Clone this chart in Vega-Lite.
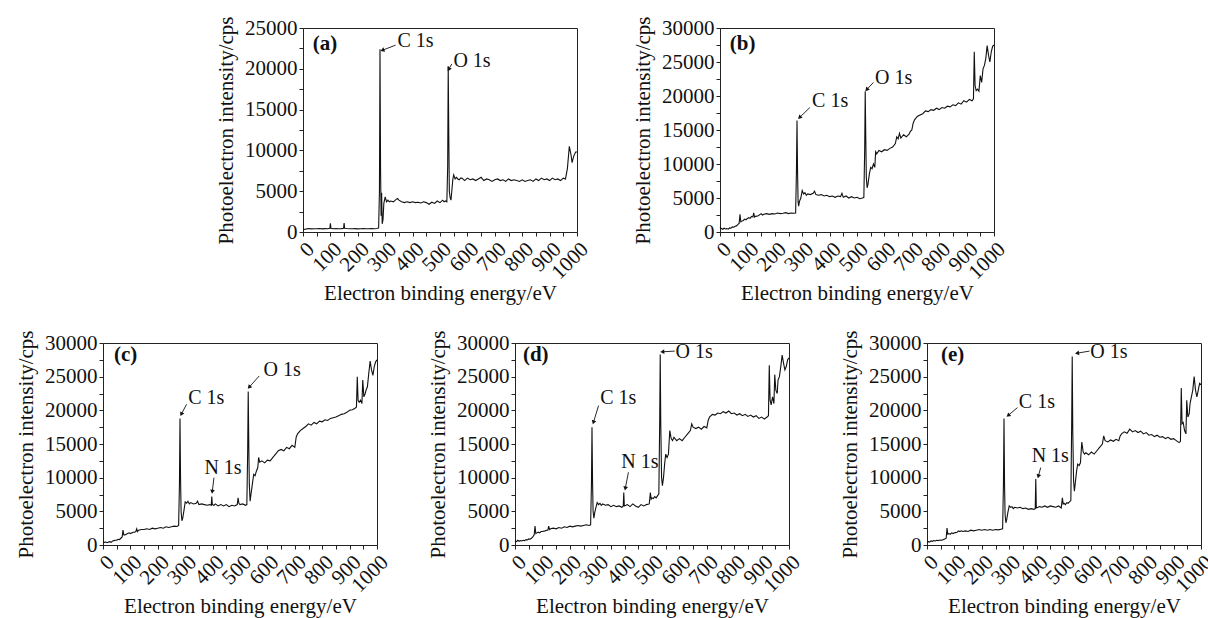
{
"$schema": "https://vega.github.io/schema/vega-lite/v6.json",
"background": "white",
"padding": {"left": 15, "top": 15, "right": 0, "bottom": 0},
"datasets": {
"a": [{"x":0,"y":300},{"x":10,"y":350},{"x":20,"y":420},{"x":30,"y":380},{"x":40,"y":400},{"x":50,"y":390},{"x":60,"y":420},{"x":70,"y":380},{"x":80,"y":410},{"x":90,"y":400},{"x":98,"y":450},{"x":100,"y":1050},{"x":102,"y":450},{"x":110,"y":400},{"x":120,"y":420},{"x":130,"y":390},{"x":140,"y":410},{"x":148,"y":450},{"x":150,"y":1100},{"x":152,"y":450},{"x":160,"y":420},{"x":170,"y":400},{"x":180,"y":390},{"x":190,"y":410},{"x":200,"y":380},{"x":210,"y":400},{"x":220,"y":420},{"x":230,"y":390},{"x":240,"y":400},{"x":250,"y":410},{"x":260,"y":390},{"x":270,"y":420},{"x":276,"y":500},{"x":279,"y":5000},{"x":281,"y":22400},{"x":283,"y":8000},{"x":285,"y":2000},{"x":287,"y":4800},{"x":289,"y":1000},{"x":292,"y":1500},{"x":295,"y":3500},{"x":300,"y":4300},{"x":305,"y":3700},{"x":310,"y":3900},{"x":315,"y":3700},{"x":320,"y":3800},{"x":330,"y":3700},{"x":340,"y":4000},{"x":345,"y":4100},{"x":350,"y":3900},{"x":360,"y":3700},{"x":370,"y":3600},{"x":380,"y":3700},{"x":390,"y":3600},{"x":400,"y":3700},{"x":410,"y":3600},{"x":420,"y":3650},{"x":430,"y":3550},{"x":440,"y":3700},{"x":450,"y":3600},{"x":460,"y":3400},{"x":470,"y":3650},{"x":480,"y":3500},{"x":490,"y":3800},{"x":500,"y":3600},{"x":510,"y":3900},{"x":515,"y":3700},{"x":520,"y":3800},{"x":525,"y":3700},{"x":528,"y":8000},{"x":530,"y":20300},{"x":532,"y":12000},{"x":534,"y":5000},{"x":537,"y":4200},{"x":540,"y":3900},{"x":543,"y":5000},{"x":547,"y":6500},{"x":550,"y":7000},{"x":555,"y":6500},{"x":560,"y":6700},{"x":565,"y":6500},{"x":570,"y":6400},{"x":575,"y":6600},{"x":580,"y":6600},{"x":590,"y":6300},{"x":600,"y":6600},{"x":610,"y":6400},{"x":620,"y":6500},{"x":630,"y":6300},{"x":640,"y":6500},{"x":650,"y":6700},{"x":660,"y":6300},{"x":670,"y":6500},{"x":680,"y":6400},{"x":690,"y":6200},{"x":700,"y":6400},{"x":710,"y":6500},{"x":720,"y":6300},{"x":730,"y":6400},{"x":740,"y":6200},{"x":750,"y":6500},{"x":760,"y":6300},{"x":770,"y":6400},{"x":780,"y":6300},{"x":790,"y":6200},{"x":800,"y":6400},{"x":810,"y":6200},{"x":820,"y":6300},{"x":830,"y":6400},{"x":840,"y":6200},{"x":850,"y":6500},{"x":860,"y":6300},{"x":870,"y":6600},{"x":880,"y":6400},{"x":890,"y":6500},{"x":900,"y":6300},{"x":910,"y":6600},{"x":920,"y":6400},{"x":930,"y":6500},{"x":940,"y":6300},{"x":950,"y":6600},{"x":958,"y":6500},{"x":965,"y":7800},{"x":972,"y":10500},{"x":978,"y":9500},{"x":982,"y":8500},{"x":988,"y":9300},{"x":995,"y":9800},{"x":1000,"y":9800}],
"b": [{"x":0,"y":700},{"x":5,"y":500},{"x":10,"y":400},{"x":15,"y":550},{"x":20,"y":450},{"x":25,"y":500},{"x":30,"y":420},{"x":35,"y":600},{"x":40,"y":550},{"x":45,"y":750},{"x":50,"y":700},{"x":55,"y":850},{"x":60,"y":900},{"x":65,"y":1100},{"x":70,"y":1300},{"x":73,"y":2600},{"x":76,"y":1500},{"x":80,"y":1600},{"x":85,"y":1700},{"x":90,"y":1900},{"x":95,"y":1800},{"x":100,"y":2000},{"x":105,"y":2100},{"x":110,"y":2000},{"x":115,"y":2300},{"x":120,"y":2200},{"x":123,"y":2800},{"x":126,"y":2200},{"x":130,"y":2300},{"x":140,"y":2400},{"x":150,"y":2700},{"x":155,"y":2500},{"x":160,"y":2600},{"x":170,"y":2700},{"x":180,"y":2600},{"x":190,"y":2700},{"x":200,"y":2650},{"x":210,"y":2800},{"x":220,"y":2700},{"x":230,"y":2750},{"x":240,"y":2850},{"x":250,"y":2700},{"x":260,"y":2800},{"x":270,"y":2750},{"x":276,"y":2800},{"x":279,"y":9000},{"x":281,"y":16400},{"x":283,"y":9000},{"x":285,"y":4500},{"x":287,"y":3800},{"x":290,"y":4500},{"x":295,"y":5000},{"x":300,"y":6100},{"x":305,"y":5600},{"x":310,"y":5800},{"x":315,"y":5400},{"x":320,"y":5600},{"x":330,"y":5500},{"x":340,"y":5700},{"x":345,"y":6000},{"x":350,"y":5500},{"x":360,"y":5400},{"x":370,"y":5500},{"x":380,"y":5300},{"x":390,"y":5400},{"x":400,"y":5200},{"x":410,"y":5300},{"x":420,"y":5100},{"x":430,"y":5300},{"x":440,"y":5200},{"x":445,"y":5700},{"x":450,"y":5100},{"x":460,"y":5300},{"x":470,"y":5000},{"x":480,"y":5200},{"x":490,"y":5000},{"x":500,"y":5100},{"x":510,"y":4900},{"x":520,"y":5000},{"x":525,"y":5100},{"x":528,"y":12000},{"x":530,"y":20700},{"x":532,"y":14000},{"x":534,"y":8000},{"x":537,"y":6500},{"x":540,"y":7000},{"x":545,"y":8500},{"x":550,"y":9500},{"x":555,"y":9300},{"x":560,"y":10000},{"x":565,"y":9500},{"x":568,"y":11800},{"x":572,"y":11500},{"x":580,"y":12000},{"x":590,"y":11800},{"x":600,"y":12100},{"x":610,"y":12000},{"x":620,"y":12300},{"x":630,"y":12500},{"x":640,"y":13000},{"x":645,"y":14000},{"x":650,"y":13700},{"x":655,"y":14500},{"x":660,"y":13800},{"x":670,"y":14300},{"x":680,"y":14000},{"x":690,"y":14400},{"x":695,"y":14800},{"x":700,"y":15000},{"x":705,"y":16000},{"x":710,"y":16500},{"x":720,"y":17000},{"x":730,"y":17200},{"x":740,"y":17400},{"x":750,"y":17800},{"x":760,"y":17700},{"x":770,"y":18000},{"x":780,"y":17900},{"x":790,"y":18200},{"x":800,"y":18000},{"x":810,"y":18300},{"x":820,"y":18200},{"x":830,"y":18500},{"x":840,"y":18400},{"x":850,"y":18700},{"x":860,"y":18600},{"x":870,"y":19000},{"x":880,"y":18800},{"x":890,"y":19300},{"x":900,"y":19100},{"x":910,"y":19500},{"x":920,"y":19300},{"x":925,"y":19600},{"x":928,"y":26500},{"x":931,"y":21500},{"x":935,"y":20800},{"x":940,"y":21000},{"x":945,"y":20700},{"x":950,"y":23000},{"x":955,"y":22000},{"x":960,"y":24000},{"x":965,"y":24500},{"x":970,"y":25500},{"x":975,"y":27400},{"x":980,"y":26000},{"x":985,"y":25000},{"x":990,"y":26500},{"x":995,"y":27300},{"x":1000,"y":27500}],
"c": [{"x":0,"y":500},{"x":5,"y":400},{"x":10,"y":450},{"x":15,"y":350},{"x":20,"y":450},{"x":25,"y":500},{"x":30,"y":400},{"x":35,"y":600},{"x":40,"y":650},{"x":45,"y":700},{"x":50,"y":700},{"x":55,"y":850},{"x":60,"y":800},{"x":65,"y":1000},{"x":70,"y":1200},{"x":73,"y":2200},{"x":76,"y":1500},{"x":80,"y":1500},{"x":85,"y":1600},{"x":90,"y":1700},{"x":95,"y":1800},{"x":100,"y":1700},{"x":110,"y":1900},{"x":115,"y":1900},{"x":120,"y":2000},{"x":123,"y":2400},{"x":126,"y":2000},{"x":130,"y":2200},{"x":140,"y":2300},{"x":150,"y":2300},{"x":160,"y":2400},{"x":170,"y":2300},{"x":180,"y":2500},{"x":190,"y":2400},{"x":200,"y":2500},{"x":210,"y":2600},{"x":220,"y":2500},{"x":230,"y":2700},{"x":240,"y":2600},{"x":250,"y":2700},{"x":260,"y":2800},{"x":270,"y":2750},{"x":276,"y":2900},{"x":279,"y":9000},{"x":281,"y":18800},{"x":283,"y":10000},{"x":285,"y":5000},{"x":288,"y":3600},{"x":291,"y":4000},{"x":295,"y":5000},{"x":300,"y":6400},{"x":305,"y":6200},{"x":310,"y":6500},{"x":315,"y":6100},{"x":320,"y":6300},{"x":330,"y":6100},{"x":340,"y":6200},{"x":345,"y":6500},{"x":350,"y":6000},{"x":360,"y":6100},{"x":370,"y":6000},{"x":380,"y":5900},{"x":390,"y":6000},{"x":395,"y":5900},{"x":397,"y":7200},{"x":399,"y":6000},{"x":405,"y":5900},{"x":410,"y":6100},{"x":420,"y":5800},{"x":430,"y":6000},{"x":440,"y":5800},{"x":450,"y":6000},{"x":460,"y":5700},{"x":470,"y":5900},{"x":480,"y":5800},{"x":490,"y":6000},{"x":493,"y":7000},{"x":496,"y":6200},{"x":500,"y":6000},{"x":510,"y":6100},{"x":520,"y":5900},{"x":525,"y":6000},{"x":528,"y":14000},{"x":530,"y":22800},{"x":532,"y":15000},{"x":534,"y":9000},{"x":537,"y":6500},{"x":540,"y":7500},{"x":545,"y":9000},{"x":550,"y":10500},{"x":555,"y":10300},{"x":560,"y":11000},{"x":565,"y":11500},{"x":568,"y":13000},{"x":572,"y":12300},{"x":580,"y":12500},{"x":590,"y":12200},{"x":600,"y":12600},{"x":610,"y":12500},{"x":620,"y":13000},{"x":630,"y":13500},{"x":640,"y":14000},{"x":650,"y":14200},{"x":660,"y":14000},{"x":670,"y":14500},{"x":680,"y":14300},{"x":690,"y":14800},{"x":700,"y":14500},{"x":705,"y":16000},{"x":710,"y":16500},{"x":720,"y":17000},{"x":730,"y":17300},{"x":740,"y":17600},{"x":750,"y":18000},{"x":760,"y":17800},{"x":770,"y":18200},{"x":780,"y":18000},{"x":790,"y":18400},{"x":800,"y":18300},{"x":810,"y":18600},{"x":820,"y":18500},{"x":830,"y":18800},{"x":840,"y":18900},{"x":850,"y":19000},{"x":860,"y":19200},{"x":870,"y":19400},{"x":880,"y":19500},{"x":890,"y":19700},{"x":900,"y":20000},{"x":910,"y":20100},{"x":920,"y":20300},{"x":925,"y":20500},{"x":928,"y":25000},{"x":931,"y":21500},{"x":935,"y":21200},{"x":940,"y":21500},{"x":945,"y":21000},{"x":948,"y":24500},{"x":952,"y":22000},{"x":957,"y":22500},{"x":960,"y":23000},{"x":965,"y":23500},{"x":970,"y":25500},{"x":975,"y":27300},{"x":980,"y":26000},{"x":985,"y":25200},{"x":990,"y":26500},{"x":995,"y":27200},{"x":1000,"y":27500}],
"d": [{"x":0,"y":600},{"x":5,"y":500},{"x":10,"y":700},{"x":15,"y":550},{"x":20,"y":650},{"x":25,"y":600},{"x":30,"y":700},{"x":35,"y":650},{"x":40,"y":800},{"x":45,"y":750},{"x":50,"y":900},{"x":55,"y":850},{"x":60,"y":1000},{"x":65,"y":1200},{"x":70,"y":1500},{"x":73,"y":2800},{"x":76,"y":1700},{"x":80,"y":1800},{"x":85,"y":1900},{"x":90,"y":1800},{"x":95,"y":2000},{"x":100,"y":2000},{"x":110,"y":2100},{"x":115,"y":2200},{"x":120,"y":2200},{"x":123,"y":2800},{"x":126,"y":2300},{"x":130,"y":2400},{"x":140,"y":2500},{"x":150,"y":2400},{"x":160,"y":2600},{"x":170,"y":2500},{"x":180,"y":2700},{"x":190,"y":2600},{"x":200,"y":2800},{"x":210,"y":2700},{"x":220,"y":2800},{"x":230,"y":2900},{"x":240,"y":2800},{"x":250,"y":2900},{"x":260,"y":3000},{"x":270,"y":2900},{"x":276,"y":3000},{"x":279,"y":9000},{"x":281,"y":17500},{"x":283,"y":9500},{"x":285,"y":5000},{"x":288,"y":4000},{"x":291,"y":4800},{"x":295,"y":5500},{"x":300,"y":6300},{"x":305,"y":6000},{"x":310,"y":6200},{"x":315,"y":5900},{"x":320,"y":6100},{"x":330,"y":5900},{"x":340,"y":6000},{"x":350,"y":5700},{"x":360,"y":5900},{"x":370,"y":5700},{"x":380,"y":5800},{"x":390,"y":5600},{"x":395,"y":5800},{"x":397,"y":7800},{"x":399,"y":5800},{"x":405,"y":5900},{"x":410,"y":6000},{"x":420,"y":5700},{"x":430,"y":6100},{"x":440,"y":5800},{"x":450,"y":5600},{"x":460,"y":6000},{"x":470,"y":5800},{"x":480,"y":6000},{"x":490,"y":6100},{"x":494,"y":7800},{"x":497,"y":6800},{"x":500,"y":7000},{"x":505,"y":6900},{"x":510,"y":7200},{"x":515,"y":7000},{"x":520,"y":7300},{"x":525,"y":7600},{"x":528,"y":18000},{"x":530,"y":28300},{"x":532,"y":18000},{"x":535,"y":10000},{"x":538,"y":8800},{"x":542,"y":10000},{"x":546,"y":12000},{"x":550,"y":13500},{"x":555,"y":13000},{"x":560,"y":13500},{"x":565,"y":17000},{"x":570,"y":15800},{"x":575,"y":15500},{"x":580,"y":16000},{"x":590,"y":15500},{"x":600,"y":15800},{"x":610,"y":15500},{"x":620,"y":16000},{"x":630,"y":16500},{"x":640,"y":17000},{"x":645,"y":18000},{"x":650,"y":17500},{"x":660,"y":17300},{"x":670,"y":17500},{"x":680,"y":17200},{"x":690,"y":17600},{"x":700,"y":17400},{"x":705,"y":18500},{"x":710,"y":19000},{"x":720,"y":19400},{"x":730,"y":19300},{"x":740,"y":19600},{"x":750,"y":19500},{"x":760,"y":19800},{"x":770,"y":19600},{"x":780,"y":19900},{"x":790,"y":19500},{"x":800,"y":19600},{"x":810,"y":19300},{"x":820,"y":19500},{"x":830,"y":19200},{"x":840,"y":19400},{"x":850,"y":19100},{"x":860,"y":19300},{"x":870,"y":19000},{"x":880,"y":19200},{"x":890,"y":18800},{"x":900,"y":19000},{"x":910,"y":18700},{"x":920,"y":19000},{"x":925,"y":19200},{"x":928,"y":26700},{"x":931,"y":21500},{"x":935,"y":20800},{"x":940,"y":22000},{"x":945,"y":21000},{"x":948,"y":25300},{"x":952,"y":23000},{"x":957,"y":22500},{"x":960,"y":24500},{"x":965,"y":25000},{"x":970,"y":26500},{"x":975,"y":28200},{"x":980,"y":27000},{"x":985,"y":26000},{"x":990,"y":26500},{"x":995,"y":27500},{"x":1000,"y":27800}],
"e": [{"x":0,"y":400},{"x":5,"y":500},{"x":10,"y":450},{"x":15,"y":600},{"x":20,"y":550},{"x":25,"y":650},{"x":30,"y":600},{"x":35,"y":700},{"x":40,"y":650},{"x":45,"y":700},{"x":50,"y":750},{"x":55,"y":700},{"x":60,"y":800},{"x":65,"y":900},{"x":70,"y":1000},{"x":73,"y":2500},{"x":76,"y":1600},{"x":80,"y":1700},{"x":85,"y":1600},{"x":90,"y":1800},{"x":95,"y":1700},{"x":100,"y":1800},{"x":110,"y":1900},{"x":115,"y":2100},{"x":120,"y":2000},{"x":125,"y":2100},{"x":130,"y":2000},{"x":140,"y":2100},{"x":150,"y":2000},{"x":160,"y":2200},{"x":170,"y":2100},{"x":180,"y":2200},{"x":190,"y":2300},{"x":200,"y":2200},{"x":210,"y":2300},{"x":220,"y":2200},{"x":230,"y":2300},{"x":240,"y":2200},{"x":250,"y":2300},{"x":260,"y":2250},{"x":270,"y":2350},{"x":276,"y":2400},{"x":279,"y":9000},{"x":281,"y":18800},{"x":283,"y":9000},{"x":285,"y":4500},{"x":288,"y":3300},{"x":291,"y":3800},{"x":295,"y":4800},{"x":300,"y":5800},{"x":305,"y":5600},{"x":310,"y":5700},{"x":315,"y":5400},{"x":320,"y":5600},{"x":330,"y":5500},{"x":340,"y":5600},{"x":350,"y":5400},{"x":360,"y":5500},{"x":370,"y":5300},{"x":380,"y":5400},{"x":390,"y":5300},{"x":395,"y":5400},{"x":397,"y":9800},{"x":399,"y":5500},{"x":405,"y":5600},{"x":410,"y":5700},{"x":420,"y":5600},{"x":430,"y":5800},{"x":440,"y":5600},{"x":450,"y":5800},{"x":460,"y":5700},{"x":470,"y":5600},{"x":480,"y":5800},{"x":490,"y":5500},{"x":494,"y":7000},{"x":497,"y":6100},{"x":500,"y":6200},{"x":505,"y":6000},{"x":510,"y":6300},{"x":515,"y":6200},{"x":520,"y":6400},{"x":525,"y":6600},{"x":528,"y":18000},{"x":530,"y":28000},{"x":532,"y":17000},{"x":535,"y":9500},{"x":538,"y":8000},{"x":542,"y":9500},{"x":546,"y":11000},{"x":550,"y":12000},{"x":555,"y":11800},{"x":560,"y":12200},{"x":565,"y":15300},{"x":570,"y":13800},{"x":575,"y":13500},{"x":580,"y":13700},{"x":590,"y":13400},{"x":600,"y":13800},{"x":610,"y":13500},{"x":620,"y":14000},{"x":630,"y":14500},{"x":640,"y":15000},{"x":645,"y":16200},{"x":650,"y":15500},{"x":660,"y":15300},{"x":670,"y":15600},{"x":680,"y":15400},{"x":690,"y":15700},{"x":700,"y":15500},{"x":705,"y":16200},{"x":710,"y":16500},{"x":720,"y":16800},{"x":730,"y":16600},{"x":740,"y":17200},{"x":750,"y":16800},{"x":760,"y":17000},{"x":770,"y":16700},{"x":780,"y":16900},{"x":790,"y":16500},{"x":800,"y":16700},{"x":810,"y":16300},{"x":820,"y":16400},{"x":830,"y":16100},{"x":840,"y":16300},{"x":850,"y":16000},{"x":860,"y":16100},{"x":870,"y":15800},{"x":880,"y":16000},{"x":890,"y":15700},{"x":900,"y":15800},{"x":910,"y":15500},{"x":920,"y":15200},{"x":925,"y":15400},{"x":928,"y":23300},{"x":931,"y":18000},{"x":935,"y":18200},{"x":940,"y":17000},{"x":945,"y":16500},{"x":948,"y":21500},{"x":952,"y":19000},{"x":957,"y":19500},{"x":960,"y":21000},{"x":965,"y":22000},{"x":970,"y":23000},{"x":975,"y":25000},{"x":980,"y":23000},{"x":985,"y":22000},{"x":990,"y":23000},{"x":995,"y":24000},{"x":1000,"y":23800}],
"arr": [{"p":"a","x":292,"y":22300,"x2":338,"y2":22900},{"p":"a","x":533,"y":20000,"x2":543,"y2":20600},{"p":"b","x":292,"y":16900,"x2":328,"y2":18300},{"p":"b","x":537,"y":21000,"x2":560,"y2":22000},{"p":"c","x":287,"y":19500,"x2":305,"y2":20900},{"p":"c","x":535,"y":23500,"x2":570,"y2":25100},{"p":"c","x":399,"y":8000,"x2":405,"y2":10000},{"p":"d","x":287,"y":18300,"x2":305,"y2":20700},{"p":"d","x":540,"y":28700,"x2":583,"y2":28800},{"p":"d","x":403,"y":8500,"x2":414,"y2":10800},{"p":"e","x":298,"y":19300,"x2":330,"y2":20400},{"p":"e","x":550,"y":28500,"x2":593,"y2":28800},{"p":"e","x":407,"y":10300,"x2":415,"y2":11500}],
"lbl": [{"p":"a","x":345,"y":23400,"t":"C 1s"},{"p":"a","x":549,"y":20950,"t":"O 1s"},{"p":"b","x":336,"y":19300,"t":"C 1s"},{"p":"b","x":566,"y":22600,"t":"O 1s"},{"p":"c","x":311,"y":21800,"t":"C 1s"},{"p":"c","x":586,"y":26000,"t":"O 1s"},{"p":"c","x":370,"y":11400,"t":"N 1s"},{"p":"d","x":311,"y":21800,"t":"C 1s"},{"p":"d","x":586,"y":28700,"t":"O 1s"},{"p":"d","x":388,"y":12300,"t":"N 1s"},{"p":"e","x":335,"y":21200,"t":"C 1s"},{"p":"e","x":596,"y":28700,"t":"O 1s"},{"p":"e","x":382,"y":13200,"t":"N 1s"}],
"tag": [{"p":"a","x":36,"y":23000,"t":"(a)"},{"p":"b","x":36,"y":27600,"t":"(b)"},{"p":"c","x":40,"y":28200,"t":"(c)"},{"p":"d","x":29,"y":28200,"t":"(d)"},{"p":"e","x":51,"y":28200,"t":"(e)"}]
},
"config": {
"view": {"stroke": "#222", "strokeWidth": 1},
"font": "Liberation Serif",
"axis": {"labelFont": "Liberation Serif", "titleFont": "Liberation Serif", "labelFontSize": 21, "titleFontSize": 21, "titleFontWeight": "normal", "labelColor": "#111", "titleColor": "#111", "domainColor": "#222", "tickColor": "#222", "grid": false, "tickSize": 4, "labelPadding": 2, "labelOverlap": false, "labelFlush": false},
"axisX": {"labelAngle": -45, "titlePadding": 0},
"axisY": {"titlePadding": 8}
},
"vconcat": [
{"hconcat": [
{"width": 73, "height": 204, "data": {"values": []}, "mark": "point", "view": {"stroke": null}},
{"width": 274, "height": 204,
"encoding": {
"x": {"field": "x", "type": "quantitative", "title": "Electron binding energy/eV", "scale": {"domain": [0, 1000], "nice": false}, "axis": {"values": [0,50,100,150,200,250,300,350,400,450,500,550,600,650,700,750,800,850,900,950,1000], "format": "d", "labelExpr": "datum.value % 100 == 0 ? datum.label : ''"}},
"y": {"field": "y", "type": "quantitative", "title": "Photoelectron intensity/cps", "scale": {"domain": [0, 25000], "nice": false}, "axis": {"values": [0,2500,5000,7500,10000,12500,15000,17500,20000,22500,25000], "format": "d", "labelExpr": "datum.value % 5000 == 0 ? datum.label : ''"}}},
"layer": [
{"data": {"name": "a"}, "mark": {"type": "line", "color": "#111", "strokeWidth": 1.1}},
{"data": {"name": "arr"}, "transform": [{"filter": "datum.p == 'a'"}], "mark": {"type": "rule", "color": "#111", "strokeWidth": 0.9}, "encoding": {"x2": {"field": "x2"}, "y2": {"field": "y2"}}},
{"data": {"name": "arr"}, "transform": [{"filter": "datum.p == 'a'"}, {"calculate": "atan2((datum.x - datum.x2) * 0.274, (datum.y - datum.y2) * 0.00816) * 180 / PI", "as": "ang"}], "mark": {"type": "point", "shape": "triangle", "filled": true, "color": "#111", "size": 22, "opacity": 1}, "encoding": {"angle": {"field": "ang", "type": "quantitative", "scale": null}}},
{"data": {"name": "lbl"}, "transform": [{"filter": "datum.p == 'a'"}], "mark": {"type": "text", "align": "left", "baseline": "middle", "font": "Liberation Serif", "fontSize": 20, "color": "#111"}, "encoding": {"text": {"field": "t"}}},
{"data": {"name": "tag"}, "transform": [{"filter": "datum.p == 'a'"}], "mark": {"type": "text", "align": "left", "baseline": "middle", "font": "Liberation Serif", "fontSize": 21, "fontWeight": "bold", "color": "#111"}, "encoding": {"text": {"field": "t"}}}
]},
{"width": 274, "height": 204,
"encoding": {
"x": {"field": "x", "type": "quantitative", "title": "Electron binding energy/eV", "scale": {"domain": [0, 1000], "nice": false}, "axis": {"values": [0,50,100,150,200,250,300,350,400,450,500,550,600,650,700,750,800,850,900,950,1000], "format": "d", "labelExpr": "datum.value % 100 == 0 ? datum.label : ''"}},
"y": {"field": "y", "type": "quantitative", "title": "Photoelectron intensity/cps", "scale": {"domain": [0, 30000], "nice": false}, "axis": {"values": [0,2500,5000,7500,10000,12500,15000,17500,20000,22500,25000,27500,30000], "format": "d", "labelExpr": "datum.value % 5000 == 0 ? datum.label : ''"}}},
"layer": [
{"data": {"name": "b"}, "mark": {"type": "line", "color": "#111", "strokeWidth": 1.1}},
{"data": {"name": "arr"}, "transform": [{"filter": "datum.p == 'b'"}], "mark": {"type": "rule", "color": "#111", "strokeWidth": 0.9}, "encoding": {"x2": {"field": "x2"}, "y2": {"field": "y2"}}},
{"data": {"name": "arr"}, "transform": [{"filter": "datum.p == 'b'"}, {"calculate": "atan2((datum.x - datum.x2) * 0.274, (datum.y - datum.y2) * 0.0068) * 180 / PI", "as": "ang"}], "mark": {"type": "point", "shape": "triangle", "filled": true, "color": "#111", "size": 22, "opacity": 1}, "encoding": {"angle": {"field": "ang", "type": "quantitative", "scale": null}}},
{"data": {"name": "lbl"}, "transform": [{"filter": "datum.p == 'b'"}], "mark": {"type": "text", "align": "left", "baseline": "middle", "font": "Liberation Serif", "fontSize": 20, "color": "#111"}, "encoding": {"text": {"field": "t"}}},
{"data": {"name": "tag"}, "transform": [{"filter": "datum.p == 'b'"}], "mark": {"type": "text", "align": "left", "baseline": "middle", "font": "Liberation Serif", "fontSize": 21, "fontWeight": "bold", "color": "#111"}, "encoding": {"text": {"field": "t"}}}
]}
], "spacing": 39},
{"hconcat": [
{"width": 274, "height": 202,
"encoding": {
"x": {"field": "x", "type": "quantitative", "title": "Electron binding energy/eV", "scale": {"domain": [0, 1000], "nice": false}, "axis": {"values": [0,50,100,150,200,250,300,350,400,450,500,550,600,650,700,750,800,850,900,950,1000], "format": "d", "labelExpr": "datum.value % 100 == 0 ? datum.label : ''"}},
"y": {"field": "y", "type": "quantitative", "title": "Photoelectron intensity/cps", "scale": {"domain": [0, 30000], "nice": false}, "axis": {"values": [0,2500,5000,7500,10000,12500,15000,17500,20000,22500,25000,27500,30000], "format": "d", "labelExpr": "datum.value % 5000 == 0 ? datum.label : ''"}}},
"layer": [
{"data": {"name": "c"}, "mark": {"type": "line", "color": "#111", "strokeWidth": 1.1}},
{"data": {"name": "arr"}, "transform": [{"filter": "datum.p == 'c'"}], "mark": {"type": "rule", "color": "#111", "strokeWidth": 0.9}, "encoding": {"x2": {"field": "x2"}, "y2": {"field": "y2"}}},
{"data": {"name": "arr"}, "transform": [{"filter": "datum.p == 'c'"}, {"calculate": "atan2((datum.x - datum.x2) * 0.274, (datum.y - datum.y2) * 0.00673) * 180 / PI", "as": "ang"}], "mark": {"type": "point", "shape": "triangle", "filled": true, "color": "#111", "size": 22, "opacity": 1}, "encoding": {"angle": {"field": "ang", "type": "quantitative", "scale": null}}},
{"data": {"name": "lbl"}, "transform": [{"filter": "datum.p == 'c'"}], "mark": {"type": "text", "align": "left", "baseline": "middle", "font": "Liberation Serif", "fontSize": 20, "color": "#111"}, "encoding": {"text": {"field": "t"}}},
{"data": {"name": "tag"}, "transform": [{"filter": "datum.p == 'c'"}], "mark": {"type": "text", "align": "left", "baseline": "middle", "font": "Liberation Serif", "fontSize": 21, "fontWeight": "bold", "color": "#111"}, "encoding": {"text": {"field": "t"}}}
]},
{"width": 274, "height": 202,
"encoding": {
"x": {"field": "x", "type": "quantitative", "title": "Electron binding energy/eV", "scale": {"domain": [0, 1000], "nice": false}, "axis": {"values": [0,50,100,150,200,250,300,350,400,450,500,550,600,650,700,750,800,850,900,950,1000], "format": "d", "labelExpr": "datum.value % 100 == 0 ? datum.label : ''"}},
"y": {"field": "y", "type": "quantitative", "title": "Photoelectron intensity/cps", "scale": {"domain": [0, 30000], "nice": false}, "axis": {"values": [0,2500,5000,7500,10000,12500,15000,17500,20000,22500,25000,27500,30000], "format": "d", "labelExpr": "datum.value % 5000 == 0 ? datum.label : ''"}}},
"layer": [
{"data": {"name": "d"}, "mark": {"type": "line", "color": "#111", "strokeWidth": 1.1}},
{"data": {"name": "arr"}, "transform": [{"filter": "datum.p == 'd'"}], "mark": {"type": "rule", "color": "#111", "strokeWidth": 0.9}, "encoding": {"x2": {"field": "x2"}, "y2": {"field": "y2"}}},
{"data": {"name": "arr"}, "transform": [{"filter": "datum.p == 'd'"}, {"calculate": "atan2((datum.x - datum.x2) * 0.274, (datum.y - datum.y2) * 0.00673) * 180 / PI", "as": "ang"}], "mark": {"type": "point", "shape": "triangle", "filled": true, "color": "#111", "size": 22, "opacity": 1}, "encoding": {"angle": {"field": "ang", "type": "quantitative", "scale": null}}},
{"data": {"name": "lbl"}, "transform": [{"filter": "datum.p == 'd'"}], "mark": {"type": "text", "align": "left", "baseline": "middle", "font": "Liberation Serif", "fontSize": 20, "color": "#111"}, "encoding": {"text": {"field": "t"}}},
{"data": {"name": "tag"}, "transform": [{"filter": "datum.p == 'd'"}], "mark": {"type": "text", "align": "left", "baseline": "middle", "font": "Liberation Serif", "fontSize": 21, "fontWeight": "bold", "color": "#111"}, "encoding": {"text": {"field": "t"}}}
]},
{"width": 274, "height": 202,
"encoding": {
"x": {"field": "x", "type": "quantitative", "title": "Electron binding energy/eV", "scale": {"domain": [0, 1000], "nice": false}, "axis": {"values": [0,50,100,150,200,250,300,350,400,450,500,550,600,650,700,750,800,850,900,950,1000], "format": "d", "labelExpr": "datum.value % 100 == 0 ? datum.label : ''"}},
"y": {"field": "y", "type": "quantitative", "title": "Photoelectron intensity/cps", "scale": {"domain": [0, 30000], "nice": false}, "axis": {"values": [0,2500,5000,7500,10000,12500,15000,17500,20000,22500,25000,27500,30000], "format": "d", "labelExpr": "datum.value % 5000 == 0 ? datum.label : ''"}}},
"layer": [
{"data": {"name": "e"}, "mark": {"type": "line", "color": "#111", "strokeWidth": 1.1}},
{"data": {"name": "arr"}, "transform": [{"filter": "datum.p == 'e'"}], "mark": {"type": "rule", "color": "#111", "strokeWidth": 0.9}, "encoding": {"x2": {"field": "x2"}, "y2": {"field": "y2"}}},
{"data": {"name": "arr"}, "transform": [{"filter": "datum.p == 'e'"}, {"calculate": "atan2((datum.x - datum.x2) * 0.274, (datum.y - datum.y2) * 0.00673) * 180 / PI", "as": "ang"}], "mark": {"type": "point", "shape": "triangle", "filled": true, "color": "#111", "size": 22, "opacity": 1}, "encoding": {"angle": {"field": "ang", "type": "quantitative", "scale": null}}},
{"data": {"name": "lbl"}, "transform": [{"filter": "datum.p == 'e'"}], "mark": {"type": "text", "align": "left", "baseline": "middle", "font": "Liberation Serif", "fontSize": 20, "color": "#111"}, "encoding": {"text": {"field": "t"}}},
{"data": {"name": "tag"}, "transform": [{"filter": "datum.p == 'e'"}], "mark": {"type": "text", "align": "left", "baseline": "middle", "font": "Liberation Serif", "fontSize": 21, "fontWeight": "bold", "color": "#111"}, "encoding": {"text": {"field": "t"}}}
]}
], "spacing": 34}
],
"spacing": 24
}
